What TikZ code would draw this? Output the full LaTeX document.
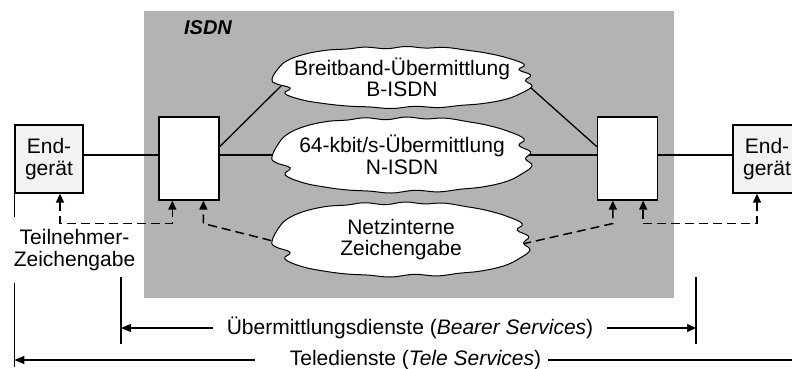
\documentclass[tikz,border=0pt]{standalone}
\usepackage{fontspec}
\setmainfont{Liberation Sans}
\usetikzlibrary{arrows.meta,calc}

\pgfdeclarelayer{back}
\pgfdeclarelayer{wires}
\pgfsetlayers{back,wires,main}

\definecolor{isdngray}{HTML}{B3B3B3}
\definecolor{devfill}{HTML}{F2F2F2}

\tikzset{
  lbl/.style={font=\fontsize{21}{21.5}\selectfont, align=center, inner sep=0pt},
  device/.style={draw, line width=1.3pt, fill=devfill, minimum width=68pt, minimum height=68pt, inner sep=0pt, lbl},
  switchbox/.style={draw, line width=1.3pt, fill=white, minimum width=60pt, minimum height=83pt, inner sep=0pt},
  link/.style={line width=1.3pt},
  sig/.style={line width=1.5pt, dash pattern=on 9pt off 5pt},
  tip/.style={-{Triangle[length=9pt,width=8pt]}},
  tips/.style={{Triangle[length=9pt,width=8pt]}-{Triangle[length=9pt,width=8pt]}},
  ltip/.style={{Triangle[length=10pt,width=8pt]}-},
  dim/.style={line width=1.1pt},
}

% cloud outline around a text node: name, x, y, half width, half height, text
\newcommand{\wolke}[6]{%
  \begin{scope}[shift={(#2,#3)}, xscale=#4, yscale=#5]
    \filldraw[fill=white, line width=1pt] plot[smooth cycle, tension=0.7] coordinates {
      (-1.00,0.05) (-0.95,-0.30) (-0.88,-0.55) (-0.75,-0.75) (-0.58,-0.88)
      (-0.42,-0.92) (-0.28,-0.98) (-0.12,-0.93) (0.03,-1.00) (0.18,-0.95)
      (0.33,-0.97) (0.50,-0.88) (0.66,-0.78) (0.82,-0.62) (0.94,-0.42)
      (0.90,-0.25) (0.99,-0.08) (0.95,0.10) (1.00,0.28) (0.92,0.50)
      (0.80,0.70) (0.62,0.84) (0.45,0.90) (0.28,0.97) (0.10,0.93)
      (-0.08,1.00) (-0.25,0.95) (-0.42,0.92) (-0.60,0.84) (-0.77,0.72)
      (-0.90,0.52) (-0.86,0.34) (-0.97,0.20)};
  \end{scope}
  \node[lbl, minimum width={#4*2pt}, minimum height={#5*2pt}] (#1) at (#2,#3) {#6};
}

\begin{document}
\begin{tikzpicture}[x=1pt,y=-1pt]
\useasboundingbox (0,0) rectangle (792,369);
\clip (0,0) rectangle (792,369);

% network area
\begin{pgfonlayer}{back}
  \fill[isdngray] (144,11) rectangle (674,298);
\end{pgfonlayer}
\node[font=\bfseries\itshape\fontsize{20}{20}\selectfont, inner sep=0pt] (isdn) at (208,28) {ISDN};

% terminals and exchange boxes
\node[device] (eL) at (49,159) {End-\\gerät};
\node[device] (eR) at (767,159) {End-\\gerät};
\node[switchbox] (bL) at (189,158.5) {};
\node[switchbox] (bR) at (627.5,158.5) {};

% transport networks
\wolke{cB}{402}{77.5}{130}{31}{Breitband-Übermittlung\\B-ISDN}
\wolke{cN}{402}{155}{130}{38}{64-kbit/s-Übermittlung\\N-ISDN}
\wolke{cZ}{401}{239.5}{129}{37.5}{Netzinterne\\Zeichengabe}

% reference levels
\coordinate (lvl) at (0,155);
\coordinate (sigl) at (0,223.5);
\coordinate (pL1) at ($(eL.south)+(11,0)$);
\coordinate (pL2) at ($(bL.south west)+(14,0)$);
\coordinate (pL3) at ($(bL.south west)+(45,0)$);
\coordinate (pR1) at ($(eR.south)+(-10,0)$);
\coordinate (pR2) at ($(bR.south east)+(-15,0)$);
\coordinate (pR3) at ($(bR.south west)+(16,0)$);

\begin{pgfonlayer}{wires}
  % user channels
  \draw[link] (eL.east |- lvl) -- (bL.west |- lvl);
  \draw[link] (bL.east |- lvl) -- (cN.center) -- (bR.west |- lvl);
  \draw[link] (bR.east |- lvl) -- (eR.west |- lvl);
  \draw[link] ($(bL.north east)!0.36!(bL.south east)$) -- ($(cB.south west)+(12,-25.5)$);
  \draw[link] ($(bR.north west)!0.36!(bR.south west)$) -- ($(cB.south east)+(-11,-29.5)$);
  % signalling
  \draw[sig, tips] (pL1) -- (pL1 |- sigl) -- (pL2 |- sigl) -- (pL2);
  \draw[sig, tips] (pR1) -- (pR1 |- sigl) -- (pR2 |- sigl) -- (pR2);
  \draw[sig, tip] ($(cZ.west)+(13,4.5)$) -- (pL3 |- sigl) -- (pL3);
  \draw[sig, tip] ($(cZ.east)+(-8,4.5)$) -- (pR3 |- sigl) -- (pR3);
\end{pgfonlayer}

% subscriber signalling label and service ranges
\node[lbl] (tz) at (74.5,250) {Teilnehmer-\\Zeichengabe};
\coordinate (tzT) at (0,217);
\coordinate (tzB) at (0,283);
\coordinate (bot) at (0,367);
\draw[dim] (eL.south west) -- (eL.south west |- tzT);
\draw[dim] (eL.south west |- tzB) -- (eL.south west |- bot);

\coordinate (uLt) at (121,277);
\coordinate (uLb) at (121,344);
\coordinate (uRt) at (696,277);
\coordinate (uRb) at (696,344);
\draw[dim] (uLt) -- (uLb);
\draw[dim] (uRt) -- (uRb);

\node[lbl, inner xsep=14pt] (ud) at (410,328) {Übermittlungsdienste (\textit{Bearer Services})};
\draw[dim, ltip] (ud.west -| uLt) -- (ud.west);
\draw[dim, tip] (ud.east) -- (ud.east -| uRt);

\node[lbl] (td) at (415.5,360) {Teledienste (\textit{Tele Services})};
\coordinate (tdR) at (800,360);
\draw[dim, ltip] (td.west -| eL.south west) -- ($(td.west)+(-35,0)$);
\draw[dim] ($(td.east)+(7,0)$) -- (td.east -| tdR);
\end{tikzpicture}
\end{document}
